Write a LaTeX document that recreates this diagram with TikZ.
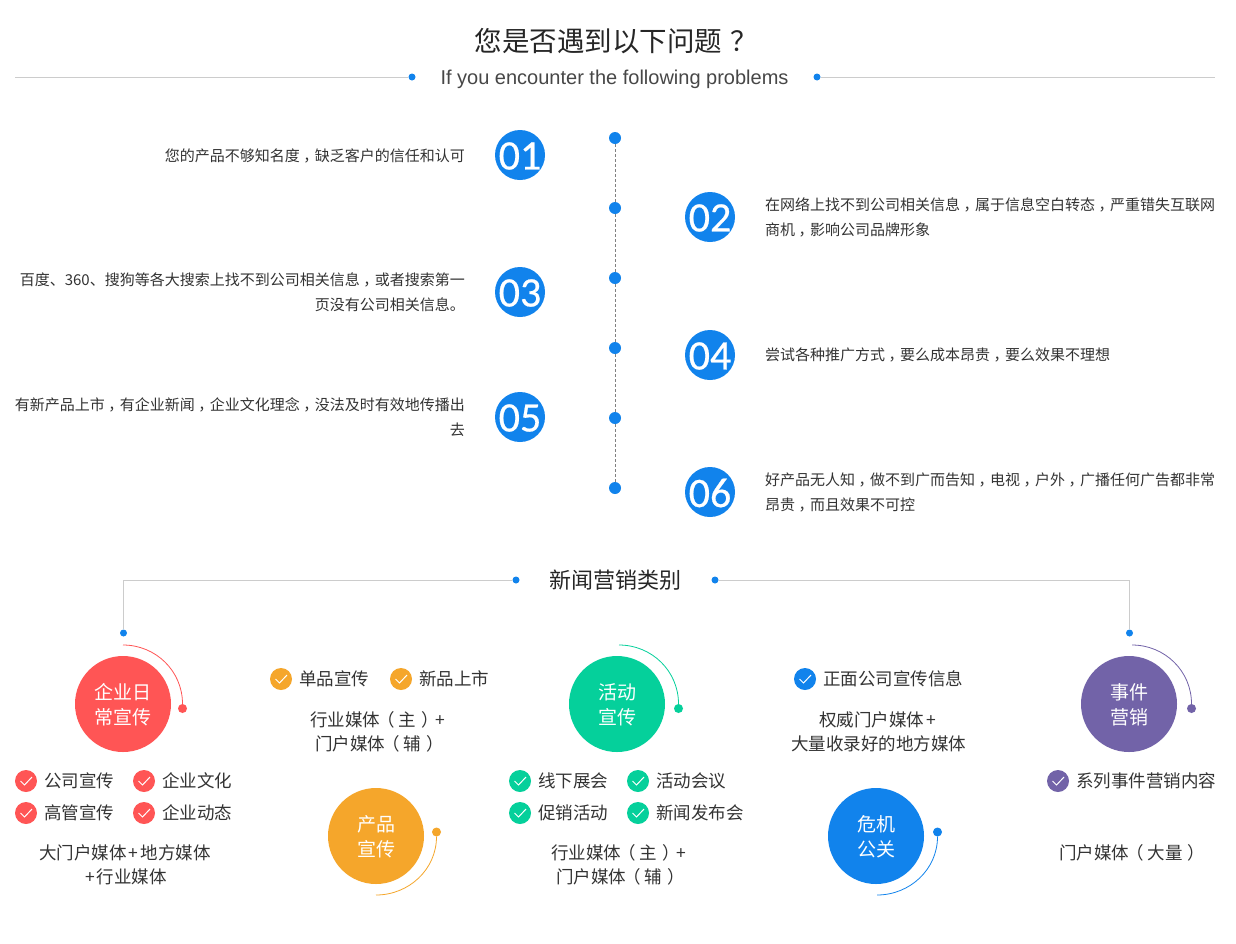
\documentclass[tikz,border=0pt]{standalone}
\usepackage{fontspec}
\setmainfont{Noto Sans CJK SC}
\newfontfamily\latinf{Liberation Sans}
\newfontfamily\numf[FakeBold=0.5]{Carlito}
\definecolor{cblue}{HTML}{1183EC}
\definecolor{cred}{HTML}{FF5555}
\definecolor{corange}{HTML}{F5A62B}
\definecolor{cgreen}{HTML}{05D09B}
\definecolor{cpurple}{HTML}{7263A8}
\definecolor{cgrey}{HTML}{CCCCCC}
\definecolor{ctext}{HTML}{333333}
\newcommand{\cm}{\kern3.5pt，\kern-3.5pt}
\newcommand{\lpr}{\kern-3pt（\kern4pt}
\newcommand{\rpr}{\kern5pt）\kern-3pt}
\newcommand{\pls}{\kern2pt+\kern2pt}
\tikzset{
  dot/.style={circle,fill=#1,inner sep=0pt,minimum size=7pt},
  tdot/.style={circle,fill=cblue,inner sep=0pt,minimum size=12pt},
  numdisc/.style={circle,fill=cblue,inner sep=0pt,minimum size=50pt,
    label={[text=white,inner sep=0pt,yshift=-1pt,font=\numf\fontsize{42}{42}\selectfont]center:#1}},
  catdisc/.style 2 args={circle,fill=#1,inner sep=0pt,minimum size=96pt,
    label={[text=white,inner sep=0pt,yshift=-1pt,align=center,font=\fontsize{19}{25}\selectfont]center:{#2}}},
  enddot/.style={circle,fill=#1,inner sep=0pt,minimum size=9pt},
  chkdisc/.style={circle,fill=#1,inner sep=0pt,minimum size=22pt},
  bodyl/.style={anchor=east,align=right,inner sep=0pt,yshift=-0.8pt,text=ctext,font=\fontsize{15}{25}\selectfont},
  bodyr/.style={anchor=west,align=left,inner sep=0pt,yshift=-0.8pt,text=ctext,font=\fontsize{15}{25}\selectfont},
  itemt/.style={anchor=west,text=ctext,inner sep=0pt,font=\fontsize{17.5}{24}\selectfont},
  medt/.style={align=center,yshift=-1pt,text=ctext,font=\fontsize{17.5}{24}\selectfont},
  greyline/.style={draw=cgrey,line width=0.8pt},
  dashline/.style={draw=gray,line width=0.7pt,dash pattern=on 3pt off 2pt},
  chkline/.style={draw=white,line width=1pt}
}
% name, x, y, colour, text
\newcommand{\chkitem}[5]{%
  \node[chkdisc=#4] (#1) at (#2,#3) {};
  \draw[chkline] ([shift={(-5.5pt,0pt)}]#1.center) -- ([shift={(-1.5pt,-4pt)}]#1.center) -- ([shift={(6pt,4pt)}]#1.center);
  \node[itemt] (#1t) at (#2+18,#3) {#5};
}
\begin{document}
\begin{tikzpicture}[x=1pt,y=-1pt]
\useasboundingbox[fill=white] (0,0) rectangle (1236,943);
% header
\node[text=black!85,font=\fontsize{27.5}{30}\selectfont,inner sep=0pt,anchor=west] (title) at (474.5,41) {您是否遇到以下问题\kern8pt？};
\node[text=ctext!90,font=\latinf\fontsize{20}{24}\selectfont] (sub) at (614.5,79) {If you encounter the following problems};
\coordinate (hl) at (15,77);
\coordinate (hr) at (1215,77);
\node[dot=cblue] (hd1) at (412,77) {};
\node[dot=cblue] (hd2) at (817,77) {};
\draw[greyline] (hl) -- (hd1);
\draw[greyline] (hd2) -- (hr);
% timeline
\node[tdot] (t1) at (615,138) {};
\node[tdot] (t2) at (615,208) {};
\node[tdot] (t3) at (615,278) {};
\node[tdot] (t4) at (615,348) {};
\node[tdot] (t5) at (615,418) {};
\node[tdot] (t6) at (615,488) {};
\draw[dashline] (t1) -- (t2);
\draw[dashline] (t2) -- (t3);
\draw[dashline] (t3) -- (t4);
\draw[dashline] (t4) -- (t5);
\draw[dashline] (t5) -- (t6);
\node[numdisc=01] (n1) at (520,155) {};
\node[numdisc=02] (n2) at (710,217) {};
\node[numdisc=03] (n3) at (520,292) {};
\node[numdisc=04] (n4) at (710,355) {};
\node[numdisc=05] (n5) at (520,417) {};
\node[numdisc=06] (n6) at (710,492) {};
\node[bodyl] (b1) at (465,155) {您的产品不够知名度\cm 缺乏客户的信任和认可};
\node[bodyl] (b3) at (465,291.5) {百度、360、搜狗等各大搜索上找不到公司相关信息\cm 或者搜索第一\\页没有公司相关信息。};
\node[bodyl] (b5) at (465,416.5) {有新产品上市\cm 有企业新闻\cm 企业文化理念\cm 没法及时有效地传播出\\去};
\node[bodyr] (b2) at (765,216.5) {在网络上找不到公司相关信息\cm 属于信息空白转态\cm 严重错失互联网\\商机\cm 影响公司品牌形象};
\node[bodyr] (b4) at (765,354) {尝试各种推广方式\cm 要么成本昂贵\cm 要么效果不理想};
\node[bodyr] (b6) at (765,491.5) {好产品无人知\cm 做不到广而告知\cm 电视\cm 户外\cm 广播任何广告都非常\\昂贵\cm 而且效果不可控};
% section 2
\node[text=black!85,font=\fontsize{22}{26}\selectfont] (sec) at (615.5,580) {新闻营销类别};
\node[dot=cblue] (sd1) at (516,580) {};
\node[dot=cblue] (sd2) at (715,580) {};
\node[dot=cblue] (sd3) at (123.5,633) {};
\node[dot=cblue] (sd4) at (1129.5,633) {};
\draw[greyline] (sd1) -| (sd3);
\draw[greyline] (sd2) -| (sd4);
% categories
\node[catdisc={cred}{企业日\\常宣传}] (c1) at (123,704) {};
\node[catdisc={corange}{产品\\宣传}] (c2) at (376,836) {};
\node[catdisc={cgreen}{活动\\宣传}] (c3) at (617,704) {};
\node[catdisc={cblue}{危机\\公关}] (c4) at (876,836) {};
\node[catdisc={cpurple}{事件\\营销}] (c5) at (1129,704) {};
\node[enddot=cred] (e1) at (182.5,708.5) {};
\node[enddot=corange] (e2) at (436.5,832) {};
\node[enddot=cgreen] (e3) at (678.5,708.5) {};
\node[enddot=cblue] (e4) at (937.5,832) {};
\node[enddot=cpurple] (e5) at (1191.5,708.5) {};
\coordinate (a1) at (123,645);
\coordinate (a2) at (376,895);
\coordinate (a3) at (619,645);
\coordinate (a4) at (877,895);
\coordinate (a5) at (1132,645);
\draw[cred,line width=0.8pt] (a1) to[out=0,in=90] (e1);
\draw[corange,line width=0.8pt] (a2) to[out=0,in=-90] (e2);
\draw[cgreen,line width=0.8pt] (a3) to[out=0,in=90] (e3);
\draw[cblue,line width=0.8pt] (a4) to[out=0,in=-90] (e4);
\draw[cpurple,line width=0.8pt] (a5) to[out=0,in=90] (e5);
% items
\chkitem{r1}{26}{781}{cred}{公司宣传}
\chkitem{r2}{144}{781}{cred}{企业文化}
\chkitem{r3}{26}{813}{cred}{高管宣传}
\chkitem{r4}{144}{813}{cred}{企业动态}
\chkitem{o1}{281}{679}{corange}{单品宣传}
\chkitem{o2}{401}{679}{corange}{新品上市}
\chkitem{g1}{520}{781}{cgreen}{线下展会}
\chkitem{g2}{638}{781}{cgreen}{活动会议}
\chkitem{g3}{520}{813}{cgreen}{促销活动}
\chkitem{g4}{638}{813}{cgreen}{新闻发布会}
\chkitem{b1c}{805}{679}{cblue}{正面公司宣传信息}
\chkitem{p1}{1058}{781}{cpurple}{系列事件营销内容}
\node[medt] (m1) at (125,864) {大门户媒体\pls 地方媒体\\\pls 行业媒体};
\node[medt] (m2) at (378,731) {行业媒体\lpr 主\rpr +\\门户媒体\lpr 辅\rpr};
\node[medt] (m3) at (619,864) {行业媒体\lpr 主\rpr +\\门户媒体\lpr 辅\rpr};
\node[medt] (m4) at (878.5,731) {权威门户媒体\pls\\大量收录好的地方媒体};
\node[medt] (m5) at (1130.5,852) {门户媒体\lpr 大量\rpr};
\end{tikzpicture}
\end{document}
